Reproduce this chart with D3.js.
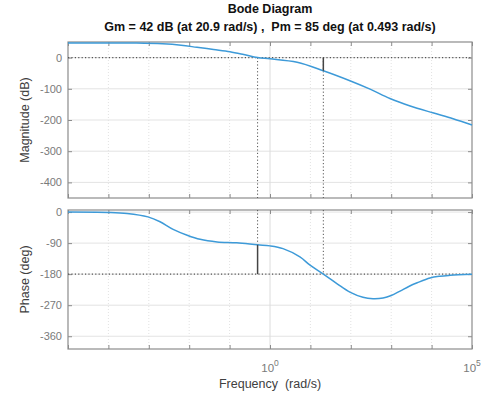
<!DOCTYPE html>
<html>
<head>
<meta charset="utf-8">
<script src="https://cdn.jsdelivr.net/npm/d3@7"></script>
<style>
  body { margin: 0; background: #fff; }
  svg { font-family: "Liberation Sans", Arial, sans-serif; }
  text { white-space: pre; }
</style>
</head>
<body>
<div id="bode"></div>
<script>
// frequencies (rad/s)
var magFreq = [1e-5, 1e-4, 5e-4, 2.2e-3, 6.3e-3, 1.55e-2, 4e-2, 1.02e-1, 2.24e-1, 0.493, 1, 4.7, 20.9, 95, 300, 930, 2950, 10700, 34000, 1e5];
var magDb = [47, 47, 46.5, 44, 39.5, 33, 26, 19, 10, 0, -4, -15, -42, -74, -101, -131, -155, -177, -196, -216];

var phFreq = [1e-5, 9.8e-5, 2.9e-4, 9.5e-4, 1.9e-3, 4e-3, 8.9e-3, 1.86e-2, 4.9e-2, 1.5e-1, 0.493, 1, 2.1, 5.5, 9.8, 20.9, 46, 95, 200, 355, 630, 1000, 1660, 2800, 4400, 9100, 16000, 29000, 1e5];
var phDeg = [0, -1, -4, -14, -28, -50, -67, -79, -86.5, -89, -95, -98, -106, -130, -154, -180, -208, -232, -247, -251, -249, -242, -229, -215, -205, -191, -186, -183.5, -180.5];

var magTicks = [0, -100, -200, -300, -400];
var phTicks = [0, -90, -180, -270, -360];
var decades = [-5, -4, -3, -2, -1, 0, 1, 2, 3, 4, 5];
var labelDecades = [0, 5];

var gm = { db: 42, freq: 20.9 };
var pm = { deg: 85, freq: 0.493 };

var width = 491, height = 398;
var left = 68, right = 472;
var magBox = { top: 42, bottom: 198 };
var phBox = { top: 210, bottom: 349 };
var lineColor = "#3d9ad8";
var axisColor = "#8c8c8c";

var svg = d3.select("#bode").append("svg")
  .attr("width", width)
  .attr("height", height);

var xscale = d3.scaleLog().domain([1e-5, 1e5]).range([left, right]);
var ymag = d3.scaleLinear().domain([-450, 50]).range([magBox.bottom, magBox.top]);
var yph = d3.scaleLinear().domain([-397, 6]).range([phBox.bottom, phBox.top]);

// titles
svg.append("text").attr("x", 270).attr("y", 13).attr("text-anchor", "middle")
  .style("font-size", "12.5px").style("font-weight", "bold").attr("fill", "#111")
  .text("Bode Diagram");
svg.append("text").attr("x", 270).attr("y", 31).attr("text-anchor", "middle")
  .style("font-size", "12.5px").style("font-weight", "bold").attr("fill", "#111")
  .text("Gm = " + gm.db + " dB (at " + gm.freq + " rad/s) ,  Pm = " + pm.deg + " deg (at " + pm.freq + " rad/s)");

function drawPanel(yscale, box, ticks, label) {
  var g = svg.append("g");

  // horizontal grid
  g.selectAll(".hgrid").data(ticks).enter().append("line")
    .attr("x1", left).attr("x2", right)
    .attr("y1", function (d) { return yscale(d); })
    .attr("y2", function (d) { return yscale(d); })
    .attr("stroke", "#e3e3e3").attr("stroke-width", 1);

  // vertical grid: solid at 10^0, dotted elsewhere
  g.selectAll(".vgrid").data(decades.slice(1, -1)).enter().append("line")
    .attr("x1", function (d) { return xscale(Math.pow(10, d)); })
    .attr("x2", function (d) { return xscale(Math.pow(10, d)); })
    .attr("y1", box.top).attr("y2", box.bottom)
    .attr("stroke", function (d) { return d === 0 ? "#dcdcdc" : "#e2e2e2"; })
    .attr("stroke-dasharray", function (d) { return d === 0 ? null : "1,2"; })
    .attr("stroke-width", 1);

  // y axis (left + right ticks)
  var yAxis = d3.axisLeft(yscale).tickValues(ticks).tickSize(-4).tickPadding(6).tickSizeOuter(0);
  var ya = g.append("g").attr("transform", "translate(" + left + ",0)").call(yAxis);
  ya.select(".domain").remove();
  ya.selectAll("line").attr("stroke", axisColor);
  ya.selectAll("text").attr("fill", "#7a7a7a").style("font-size", "11px").style("font-family", "Liberation Sans, Arial, sans-serif")
    .text(function (d) { return d === 0 ? "0" : "-" + Math.abs(d); });
  var yr = g.append("g").attr("transform", "translate(" + right + ",0)")
    .call(d3.axisRight(yscale).tickValues(ticks).tickSize(-4).tickFormat("").tickSizeOuter(0));
  yr.select(".domain").remove();
  yr.selectAll("line").attr("stroke", axisColor);

  // x ticks top and bottom
  var xt = decades.map(function (d) { return Math.pow(10, d); });
  var xb = g.append("g").attr("transform", "translate(0," + box.bottom + ")")
    .call(d3.axisBottom(xscale).tickValues(xt).tickSize(-4).tickFormat("").tickSizeOuter(0));
  xb.select(".domain").remove();
  xb.selectAll("line").attr("stroke", axisColor);
  var xtop = g.append("g").attr("transform", "translate(0," + box.top + ")")
    .call(d3.axisTop(xscale).tickValues(xt).tickSize(-4).tickFormat("").tickSizeOuter(0));
  xtop.select(".domain").remove();
  xtop.selectAll("line").attr("stroke", axisColor);

  // box
  g.append("rect").attr("x", left).attr("y", box.top)
    .attr("width", right - left).attr("height", box.bottom - box.top)
    .attr("fill", "none").attr("stroke", axisColor).attr("stroke-width", 1.2);

  // y label
  svg.append("text")
    .attr("transform", "translate(29," + ((box.top + box.bottom) / 2) + ") rotate(-90)")
    .attr("text-anchor", "middle").style("font-size", "12.5px").attr("fill", "#404040")
    .text(label);

  return g;
}

var gMag = drawPanel(ymag, magBox, magTicks, "Magnitude (dB)");
var gPh = drawPanel(yph, phBox, phTicks, "Phase (deg)");

// margin reference lines (dotted)
var dotted = "#555";
gMag.append("line").attr("x1", left).attr("x2", right)
  .attr("y1", ymag(0)).attr("y2", ymag(0))
  .attr("stroke", dotted).attr("stroke-dasharray", "1.2,2.2").attr("stroke-width", 1.2);
gPh.append("line").attr("x1", left).attr("x2", right)
  .attr("y1", yph(-180)).attr("y2", yph(-180))
  .attr("stroke", dotted).attr("stroke-dasharray", "1.2,2.2").attr("stroke-width", 1.2);

[pm.freq, gm.freq].forEach(function (f) {
  gMag.append("line").attr("x1", xscale(f)).attr("x2", xscale(f))
    .attr("y1", ymag(0)).attr("y2", magBox.bottom)
    .attr("stroke", dotted).attr("stroke-dasharray", "1.2,2.2").attr("stroke-width", 1);
});
gPh.append("line").attr("x1", xscale(pm.freq)).attr("x2", xscale(pm.freq))
  .attr("y1", phBox.top).attr("y2", yph(-180 + pm.deg))
  .attr("stroke", dotted).attr("stroke-dasharray", "1.2,2.2").attr("stroke-width", 1);
gPh.append("line").attr("x1", xscale(gm.freq)).attr("x2", xscale(gm.freq))
  .attr("y1", phBox.top).attr("y2", yph(-180))
  .attr("stroke", dotted).attr("stroke-dasharray", "1.2,2.2").attr("stroke-width", 1);

// curves
var magLine = d3.line()
  .x(function (d, i) { return xscale(magFreq[i]); })
  .y(function (d) { return ymag(d); })
  .curve(d3.curveCatmullRom.alpha(0.5));
gMag.append("path").datum(magDb).attr("d", magLine)
  .attr("fill", "none").attr("stroke", lineColor).attr("stroke-width", 1.5);

var phLine = d3.line()
  .x(function (d, i) { return xscale(phFreq[i]); })
  .y(function (d) { return yph(d); })
  .curve(d3.curveCatmullRom.alpha(0.5));
gPh.append("path").datum(phDeg).attr("d", phLine)
  .attr("fill", "none").attr("stroke", lineColor).attr("stroke-width", 1.5);

// solid margin markers
gMag.append("line").attr("x1", xscale(gm.freq)).attr("x2", xscale(gm.freq))
  .attr("y1", ymag(0)).attr("y2", ymag(-gm.db))
  .attr("stroke", "#444").attr("stroke-width", 1.5);
gPh.append("line").attr("x1", xscale(pm.freq)).attr("x2", xscale(pm.freq))
  .attr("y1", yph(-180)).attr("y2", yph(-180 + pm.deg))
  .attr("stroke", "#444").attr("stroke-width", 1.5);

// x tick labels (10^k)
labelDecades.forEach(function (k) {
  var t = svg.append("text").attr("x", xscale(Math.pow(10, k))).attr("y", 372)
    .attr("text-anchor", "middle").attr("fill", "#7a7a7a").style("font-size", "11.5px");
  t.append("tspan").text("10");
  t.append("tspan").attr("dy", -6).style("font-size", "8.5px").text(k);
});

svg.append("text").attr("x", 270).attr("y", 388).attr("text-anchor", "middle")
  .style("font-size", "12.5px").attr("fill", "#404040")
  .text("Frequency  (rad/s)");
</script>
</body>
</html>
